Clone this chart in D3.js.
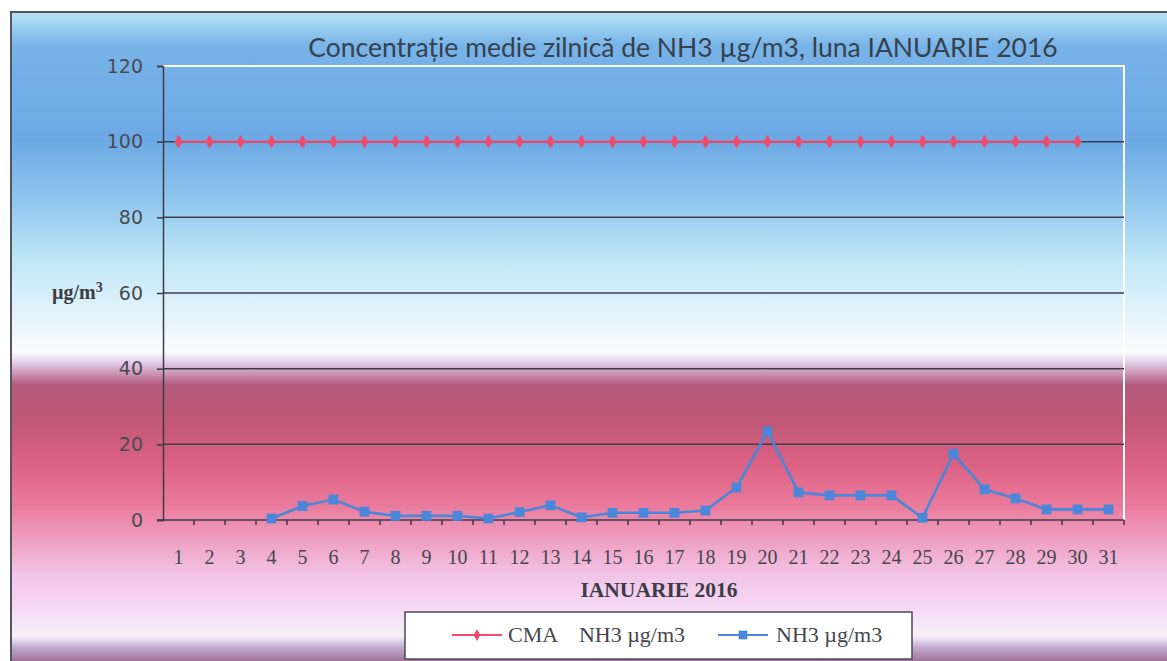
<!DOCTYPE html>
<html>
<head>
<meta charset="utf-8">
<script src="https://cdn.jsdelivr.net/npm/d3@7"></script>
<style>
  body { margin: 0; background: #fff; }
  svg { display: block; }
</style>
</head>
<body>
<div id="chart"></div>
<script>
const days = d3.range(1, 32).map(String);
const cmaValues = [100, 100, 100, 100, 100, 100, 100, 100, 100, 100, 100, 100, 100, 100, 100,
  100, 100, 100, 100, 100, 100, 100, 100, 100, 100, 100, 100, 100, 100, 100, null];
const nh3Values = [null, null, null, 0.4, 3.7, 5.4, 2.2, 1.1, 1.1, 1.1, 0.4, 2.1, 3.9, 0.7, 1.9,
  1.9, 1.9, 2.5, 8.6, 23.4, 7.3, 6.5, 6.5, 6.5, 0.6, 17.5, 8.1, 5.7, 2.8, 2.8, 2.8];
const yTicks = [0, 20, 40, 60, 80, 100, 120];

const width = 1167;
const height = 661;
const margin = { top: 66, left: 163, right: 43, bottom: 141 };

const svg = d3.select('#chart').append('svg')
  .attr('width', width)
  .attr('height', height);

// background gradient of the chart area
const defs = svg.append('defs');
const grad = defs.append('linearGradient')
  .attr('id', 'bg')
  .attr('gradientUnits', 'userSpaceOnUse')
  .attr('x1', 0).attr('y1', 12).attr('x2', 0).attr('y2', height);
[
  [12, '#b8e4f6'], [45, '#78b4e8'], [140, '#6ca8e4'], [200, '#8fc6ee'], [260, '#c0e6f6'],
  [320, '#e6f5fb'], [352, '#fbfcfd'], [362, '#e4d0ec'], [385, '#b45a7c'], [420, '#c05876'],
  [465, '#dc6284'], [505, '#ea7a9c'], [535, '#ee9abc'], [575, '#f2c4e6'], [612, '#f6dcf6'],
  [636, '#f6f0fa'], [648, '#c0a8d0'], [661, '#a07496']
].forEach(([y, c]) => {
  grad.append('stop').attr('offset', (y - 12) / (height - 12)).attr('stop-color', c);
});

svg.append('rect')
  .attr('x', 11).attr('y', 12)
  .attr('width', width).attr('height', height)
  .attr('fill', 'url(#bg)')
  .attr('stroke', '#55555f')
  .attr('stroke-width', 2);

const x = d3.scaleBand()
  .domain(days)
  .range([margin.left, width - margin.right]);

const y = d3.scaleLinear()
  .domain([0, 120])
  .range([height - margin.bottom, margin.top]);

// title
svg.append('text')
  .attr('x', 683).attr('y', 57)
  .attr('text-anchor', 'middle')
  .style('font-family', 'Lato, sans-serif')
  .style('font-size', '26.5px')
  .style('fill', '#36414e')
  .text('Concentrație medie zilnică de NH3 µg/m3, luna IANUARIE 2016');

// plot frame: white top and right
svg.append('path')
  .attr('d', `M${margin.left},${margin.top}H${width - margin.right}V${y(0)}`)
  .attr('fill', 'none')
  .attr('stroke', '#ffffff')
  .attr('stroke-width', 2);

// gridlines
svg.append('g')
  .selectAll('line')
  .data(yTicks.filter((t) => t > 0 && t < 120))
  .enter()
  .append('line')
  .attr('x1', margin.left).attr('x2', width - margin.right)
  .attr('y1', (d) => y(d)).attr('y2', (d) => y(d))
  .attr('stroke', '#3c3c48')
  .attr('stroke-width', 1.5);

// y axis
const yAxis = svg.append('g')
  .attr('transform', `translate(${margin.left},0)`)
  .call(d3.axisLeft(y).tickValues(yTicks).tickSize(6).tickPadding(14));
yAxis.select('.domain').attr('stroke', '#3c3c48').attr('stroke-width', 1.5);
yAxis.selectAll('.tick line').attr('stroke', '#3c3c48').attr('stroke-width', 1.5);
yAxis.selectAll('.tick text')
  .style('font-family', 'DejaVu Sans, sans-serif')
  .style('font-size', '19px')
  .style('fill', '#4a4a52');

// x axis with ticks on band edges
const xAxis = svg.append('g')
  .attr('transform', `translate(0,${y(0)})`);
xAxis.append('line')
  .attr('x1', margin.left - 6).attr('x2', width - margin.right)
  .attr('stroke', '#3c3c48').attr('stroke-width', 1.5);
xAxis.selectAll('.xtick')
  .data(days)
  .enter()
  .append('line')
  .attr('class', 'xtick')
  .attr('x1', (d) => x(d) + x.bandwidth()).attr('x2', (d) => x(d) + x.bandwidth())
  .attr('y1', 0).attr('y2', 5)
  .attr('stroke', '#3c3c48').attr('stroke-width', 1.5);
xAxis.selectAll('.xlabel')
  .data(days)
  .enter()
  .append('text')
  .attr('class', 'xlabel')
  .attr('x', (d) => x(d) + x.bandwidth() / 2)
  .attr('y', 44)
  .attr('text-anchor', 'middle')
  .style('font-family', 'Liberation Serif, serif')
  .style('font-size', '20px')
  .style('fill', '#46464e')
  .text((d) => d);

// axis titles
svg.append('text')
  .attr('x', 659).attr('y', 597)
  .attr('text-anchor', 'middle')
  .style('font-family', 'Liberation Serif, serif')
  .style('font-weight', 'bold')
  .style('font-size', '21.5px')
  .style('fill', '#3c3c46')
  .text('IANUARIE 2016');

const unit = svg.append('text')
  .attr('x', 52).attr('y', y(60) + 6)
  .style('font-family', 'Liberation Serif, serif')
  .style('font-weight', 'bold')
  .style('font-size', '20px')
  .style('fill', '#3c3c46');
unit.append('tspan').text('µg/m');
unit.append('tspan').attr('dy', -7).style('font-size', '14px').text('3');

// series
const cx = (d) => x(d.day) + x.bandwidth() / 2;
const series = [
  { name: 'cma', color: '#f04a6c', values: cmaValues, symbol: d3.symbolDiamond, size: 55, width: 2.2 },
  { name: 'nh3', color: '#4a86da', values: nh3Values, symbol: d3.symbolSquare, size: 95, width: 2.6 }
];

series.forEach((s) => {
  const pts = s.values.map((v, i) => ({ day: days[i], value: v }));
  const line = d3.line()
    .defined((d) => d.value !== null)
    .x(cx)
    .y((d) => y(d.value));
  svg.append('path')
    .datum(pts)
    .attr('fill', 'none')
    .attr('stroke', s.color)
    .attr('stroke-width', s.width)
    .attr('d', line);
  svg.append('g')
    .selectAll('path')
    .data(pts.filter((d) => d.value !== null))
    .enter()
    .append('path')
    .attr('transform', (d) => `translate(${cx(d)},${y(d.value)})`)
    .attr('d', d3.symbol(s.symbol, s.size))
    .attr('fill', s.color);
});

// legend
const legend = svg.append('g');
legend.append('rect')
  .attr('x', 405).attr('y', 612)
  .attr('width', 507).attr('height', 47)
  .attr('fill', '#ffffff')
  .attr('stroke', '#4a4a52')
  .attr('stroke-width', 1.5);

const legendItems = [
  { label: 'CMA    NH3 µg/m3', color: '#f04a6c', symbol: d3.symbolDiamond, size: 40, lx: 452, tx: 508 },
  { label: 'NH3 µg/m3', color: '#4a86da', symbol: d3.symbolSquare, size: 75, lx: 718, tx: 776 }
];
legendItems.forEach((it) => {
  legend.append('line')
    .attr('x1', it.lx).attr('x2', it.lx + 50)
    .attr('y1', 635).attr('y2', 635)
    .attr('stroke', it.color).attr('stroke-width', 2.2);
  legend.append('path')
    .attr('transform', `translate(${it.lx + 25},635)`)
    .attr('d', d3.symbol(it.symbol, it.size))
    .attr('fill', it.color);
  legend.append('text')
    .attr('x', it.tx).attr('y', 642)
    .attr('xml:space', 'preserve')
    .style('white-space', 'pre')
    .style('font-family', 'Liberation Serif, serif')
    .style('font-size', '22px')
    .style('fill', '#46464e')
    .text(it.label);
});
</script>
</body>
</html>
